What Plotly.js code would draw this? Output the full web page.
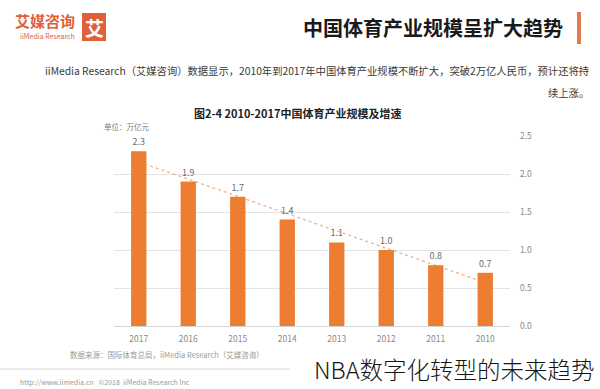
<!DOCTYPE html>
<html>
<head>
<meta charset="utf-8">
<script src="https://cdn.plot.ly/plotly-3.0.1.min.js"></script>
<style>
html,body{margin:0;padding:0;background:#fff;}
#chart{width:600px;height:389px;}
</style>
</head>
<body>
<div id="chart"></div>
<script>
// ---- data ----
const years = ['2017','2016','2015','2014','2013','2012','2011','2010'];
const scaleValues = [2.3, 1.9, 1.7, 1.4, 1.1, 1.0, 0.8, 0.7];
const trendYears = ['2017', '2010'];
const trendValues = [2.16, 0.57];
const yTicks = [0, 0.5, 1.0, 1.5, 2.0, 2.5];

// ---- texts ----
const headingText = '中国体育产业规模呈扩大趋势';
const paraLine1 = 'iiMedia Research（艾媒咨询）数据显示，2010年到2017年中国体育产业规模不断扩大，突破2万亿人民币，预计还将持';
const paraLine2 = '续上涨。';
const captionText = '图2-4 2010-2017中国体育产业规模及增速';
const unitText = '单位：万亿元';
const sourceText = '数据来源：国际体育总局，iiMedia Research（艾媒咨询）';
const siteText = 'http://www.iimedia.cn   ©2018  iiMedia Research Inc';
const watermarkText = 'NBA数字化转型的未来趋势';

// ---- geometry helpers (plot area in pixels) ----
const L = 114, R = 510, T = 136, B = 326;
const W = 600, H = 389;
const px = x => (x - L) / (R - L);
const py = y => (B - y) / (B - T);

const FONT = '"Noto Sans CJK SC", "Noto Sans", sans-serif';
const ORANGE = '#ED7D31';

const traces = [
  {
    type: 'scatter', mode: 'lines',
    x: trendYears, y: trendValues,
    xaxis: 'x', yaxis: 'y',
    line: {color: '#F4B183', width: 1.3, dash: 'dot'},
    hoverinfo: 'skip', showlegend: false
  },
  {
    type: 'bar',
    x: years, y: scaleValues,
    xaxis: 'x2', yaxis: 'y2',
    marker: {color: ORANGE},
    text: scaleValues.map(v => v.toFixed(1)),
    textposition: 'outside',
    textfont: {family: FONT, size: 9, color: '#6b6b6b'},
    cliponaxis: false,
    showlegend: false
  }
];

const xCommon = {
  type: 'category', categoryorder: 'array', categoryarray: years,
  range: [-0.5, years.length - 0.5]
};

const layout = {
  width: W, height: H,
  margin: {l: L, r: W - R, t: T, b: H - B, pad: 0},
  paper_bgcolor: '#fff', plot_bgcolor: '#fff',
  bargap: 0.69,
  font: {family: FONT, color: '#333'},
  showlegend: false,
  xaxis: Object.assign({}, xCommon, {
    showgrid: false, zeroline: false,
    showline: false, ticks: '',
    tickfont: {family: FONT, size: 8.5, color: '#8a8a8a'},
    ticklabelstandoff: 6
  }),
  yaxis: {
    side: 'right', range: [0, 2.5], tickvals: yTicks, tickformat: '.1f',
    showgrid: true, gridcolor: '#e3e3e3', gridwidth: 1,
    zeroline: true, zerolinecolor: '#d4d4d4', zerolinewidth: 1,
    showline: false, ticks: '',
    tickfont: {family: FONT, size: 8.5, color: '#8a8a8a'},
    ticklabelstandoff: 9
  },
  xaxis2: Object.assign({}, xCommon, {overlaying: 'x', visible: false}),
  yaxis2: {overlaying: 'y', range: [0, 2.5], visible: false},
  shapes: [
    // logo square
    {type: 'rect', xref: 'paper', yref: 'paper',
     x0: px(82), x1: px(106), y0: py(13), y1: py(41),
     fillcolor: '#E0603A', line: {width: 0}},
    // heading accent bar
    {type: 'rect', xref: 'paper', yref: 'paper',
     x0: px(577), x1: px(581), y0: py(12), y1: py(44),
     fillcolor: '#E07A4A', line: {width: 0}},
    // footer rule
    {type: 'line', xref: 'paper', yref: 'paper',
     x0: px(0), x1: px(290), y0: py(369), y1: py(369),
     line: {color: '#d8d8d8', width: 1}}
  ],
  annotations: [
    {text: '<b>艾</b>', xref: 'paper', yref: 'paper', x: px(94), y: py(27),
     xanchor: 'center', yanchor: 'middle', showarrow: false,
     font: {family: FONT, size: 19, color: '#fff'}},
    {text: '<b>艾媒咨询</b>', xref: 'paper', yref: 'paper', x: px(77), y: py(21),
     xanchor: 'right', yanchor: 'middle', showarrow: false,
     font: {family: FONT, size: 15, color: '#E0603A'}},
    {text: 'iiMedia Research', xref: 'paper', yref: 'paper', x: px(77), y: py(36),
     xanchor: 'right', yanchor: 'middle', showarrow: false,
     font: {family: FONT, size: 7, color: '#E0603A'}},
    {text: '<b>' + headingText + '</b>', xref: 'paper', yref: 'paper', x: px(565), y: py(27),
     xanchor: 'right', yanchor: 'middle', showarrow: false,
     font: {family: FONT, size: 20, color: '#1a1a1a'}},
    {text: paraLine1, xref: 'paper', yref: 'paper', x: px(591), y: py(70),
     xanchor: 'right', yanchor: 'middle', showarrow: false,
     font: {family: FONT, size: 10.3, color: '#3a3a3a'}},
    {text: paraLine2, xref: 'paper', yref: 'paper', x: px(591), y: py(92),
     xanchor: 'right', yanchor: 'middle', showarrow: false,
     font: {family: FONT, size: 10.3, color: '#3a3a3a'}},
    {text: '<b>' + captionText + '</b>', xref: 'paper', yref: 'paper', x: px(298), y: py(113),
     xanchor: 'center', yanchor: 'middle', showarrow: false,
     font: {family: FONT, size: 11, color: '#222'}},
    {text: unitText, xref: 'paper', yref: 'paper', x: px(102), y: py(126),
     xanchor: 'left', yanchor: 'middle', showarrow: false,
     font: {family: FONT, size: 7.5, color: '#7a7a7a'}},
    {text: sourceText, xref: 'paper', yref: 'paper', x: px(266), y: py(354),
     xanchor: 'right', yanchor: 'middle', showarrow: false,
     font: {family: FONT, size: 7.5, color: '#9a9a9a'}},
    {text: siteText, xref: 'paper', yref: 'paper', x: px(192), y: py(382),
     xanchor: 'right', yanchor: 'middle', showarrow: false,
     font: {family: FONT, size: 7, color: '#9a9a9a'}},
    {text: watermarkText, xref: 'paper', yref: 'paper', x: px(597), y: py(369),
     xanchor: 'right', yanchor: 'middle', showarrow: false, bgcolor: '#fff',
     font: {family: FONT, size: 23.5, color: '#151515', weight: 300}}
  ]
};

Plotly.newPlot('chart', traces, layout, {displayModeBar: false, staticPlot: true});
</script>
</body>
</html>
